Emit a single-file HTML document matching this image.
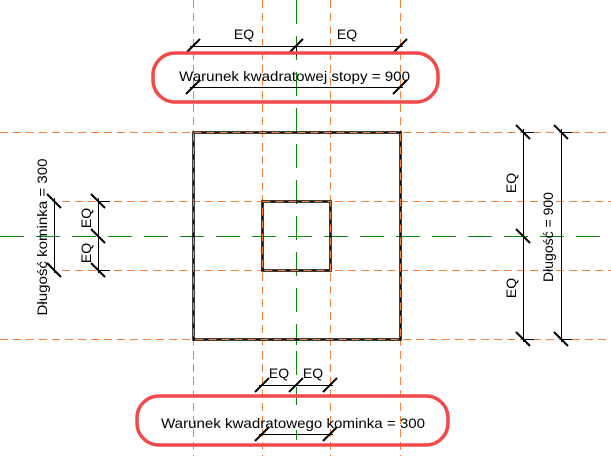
<!DOCTYPE html>
<html><head><meta charset="utf-8"><style>html,body{margin:0;padding:0;background:#fff}svg{display:block}text{font-family:"Liberation Sans",Arial,sans-serif;font-size:14px;fill:#000}</style></head><body>
<svg width="611" height="456" viewBox="0 0 611 456" xmlns="http://www.w3.org/2000/svg">
<g stroke="#f5803a" stroke-width="1" stroke-dasharray="8,5" fill="none">
<line x1="193.5" y1="0" x2="193.5" y2="456"/>
<line x1="262.5" y1="0" x2="262.5" y2="456"/>
<line x1="330.5" y1="0" x2="330.5" y2="456"/>
<line x1="400.5" y1="0" x2="400.5" y2="456"/>
<line x1="0" y1="132.5" x2="611" y2="132.5"/>
<line x1="0" y1="339.5" x2="611" y2="339.5"/>
<line x1="62" y1="201.5" x2="611" y2="201.5"/>
<line x1="62" y1="270.5" x2="611" y2="270.5"/>
</g>
<g stroke="#0a8a0a" stroke-width="1" stroke-dasharray="24,12" fill="none">
<line x1="296.5" y1="0" x2="296.5" y2="345"/>
<line x1="0" y1="236.5" x2="611" y2="236.5"/>
<line x1="296.5" y1="351" x2="296.5" y2="405"/>
<line x1="296.5" y1="430" x2="296.5" y2="440"/>
</g>
<g stroke="#000" stroke-width="2.5" fill="none">
<rect x="193.5" y="132.5" width="207" height="207"/>
<rect x="262.5" y="201.5" width="68" height="69"/>
</g>
<g stroke="#f5803a" stroke-width="1" stroke-dasharray="8,5" fill="none">
<rect x="193.5" y="132.5" width="207" height="207"/>
<rect x="262.5" y="201.5" width="68" height="69"/>
</g>
<!-- dimension lines -->
<g stroke="#000" stroke-width="1" fill="none">
<line x1="190" y1="46.5" x2="403" y2="46.5"/>
<line x1="190" y1="87.5" x2="403" y2="87.5"/>
<line x1="259" y1="385.5" x2="333" y2="385.5"/>
<line x1="259" y1="434.5" x2="333" y2="434.5"/>
<line x1="54.5" y1="198" x2="54.5" y2="273"/>
<line x1="98.5" y1="198" x2="98.5" y2="273"/>
<line x1="98" y1="201.5" x2="110" y2="201.5"/>
<line x1="98" y1="270.5" x2="110" y2="270.5"/>
<line x1="523.5" y1="129" x2="523.5" y2="342"/>
<line x1="561.5" y1="129" x2="561.5" y2="342"/>
<line x1="523" y1="132.5" x2="534" y2="132.5"/><line x1="561" y1="132.5" x2="572" y2="132.5"/>
<line x1="523" y1="339.5" x2="534" y2="339.5"/><line x1="561" y1="339.5" x2="572" y2="339.5"/>
<line x1="296.5" y1="46" x2="296.5" y2="56"/>
</g>
<g stroke="#000" stroke-width="2" fill="none">
<line x1="186" y1="53" x2="200" y2="39"/><line x1="289" y1="53" x2="303" y2="39"/><line x1="393" y1="53" x2="407" y2="39"/>
<line x1="186" y1="94" x2="200" y2="80"/><line x1="393" y1="94" x2="407" y2="80"/>
<line x1="255" y1="392" x2="269" y2="378"/><line x1="289" y1="392" x2="303" y2="378"/><line x1="323" y1="392" x2="337" y2="378"/>
<line x1="255" y1="441" x2="269" y2="427"/><line x1="323" y1="441" x2="337" y2="427"/>
<line x1="47" y1="194" x2="61" y2="208"/><line x1="47" y1="263" x2="61" y2="277"/>
<line x1="91" y1="194" x2="105" y2="208"/><line x1="91" y1="229" x2="105" y2="243"/><line x1="91" y1="263" x2="105" y2="277"/>
<line x1="516" y1="125" x2="530" y2="139"/><line x1="516" y1="229" x2="530" y2="243"/><line x1="516" y1="332" x2="530" y2="346"/>
<line x1="554" y1="125" x2="568" y2="139"/><line x1="554" y1="332" x2="568" y2="346"/>
</g>
<g fill="none" stroke="#f24a4a" stroke-width="3.5">
<rect x="153" y="53" width="285" height="49" rx="22"/>
<rect x="137" y="396" width="311" height="49" rx="22"/>
</g>
<text x="244" y="39" text-anchor="middle">EQ</text>
<text x="347" y="39" text-anchor="middle">EQ</text>
<text x="179" y="81" textLength="231" lengthAdjust="spacingAndGlyphs">Warunek kwadratowej stopy = 900</text>
<text x="279" y="378" text-anchor="middle">EQ</text>
<text x="313" y="378" text-anchor="middle">EQ</text>
<text x="161" y="428" textLength="264" lengthAdjust="spacingAndGlyphs">Warunek kwadratowego kominka = 300</text>
<text transform="translate(47,237) rotate(-90)" text-anchor="middle" textLength="157" lengthAdjust="spacingAndGlyphs">Długość kominka = 300</text>
<text transform="translate(91,218) rotate(-90)" text-anchor="middle">EQ</text>
<text transform="translate(91,253) rotate(-90)" text-anchor="middle">EQ</text>
<text transform="translate(516,183) rotate(-90)" text-anchor="middle">EQ</text>
<text transform="translate(516,288) rotate(-90)" text-anchor="middle">EQ</text>
<text transform="translate(553,237) rotate(-90)" text-anchor="middle">Długość = 900</text>
</svg>
</body></html>
